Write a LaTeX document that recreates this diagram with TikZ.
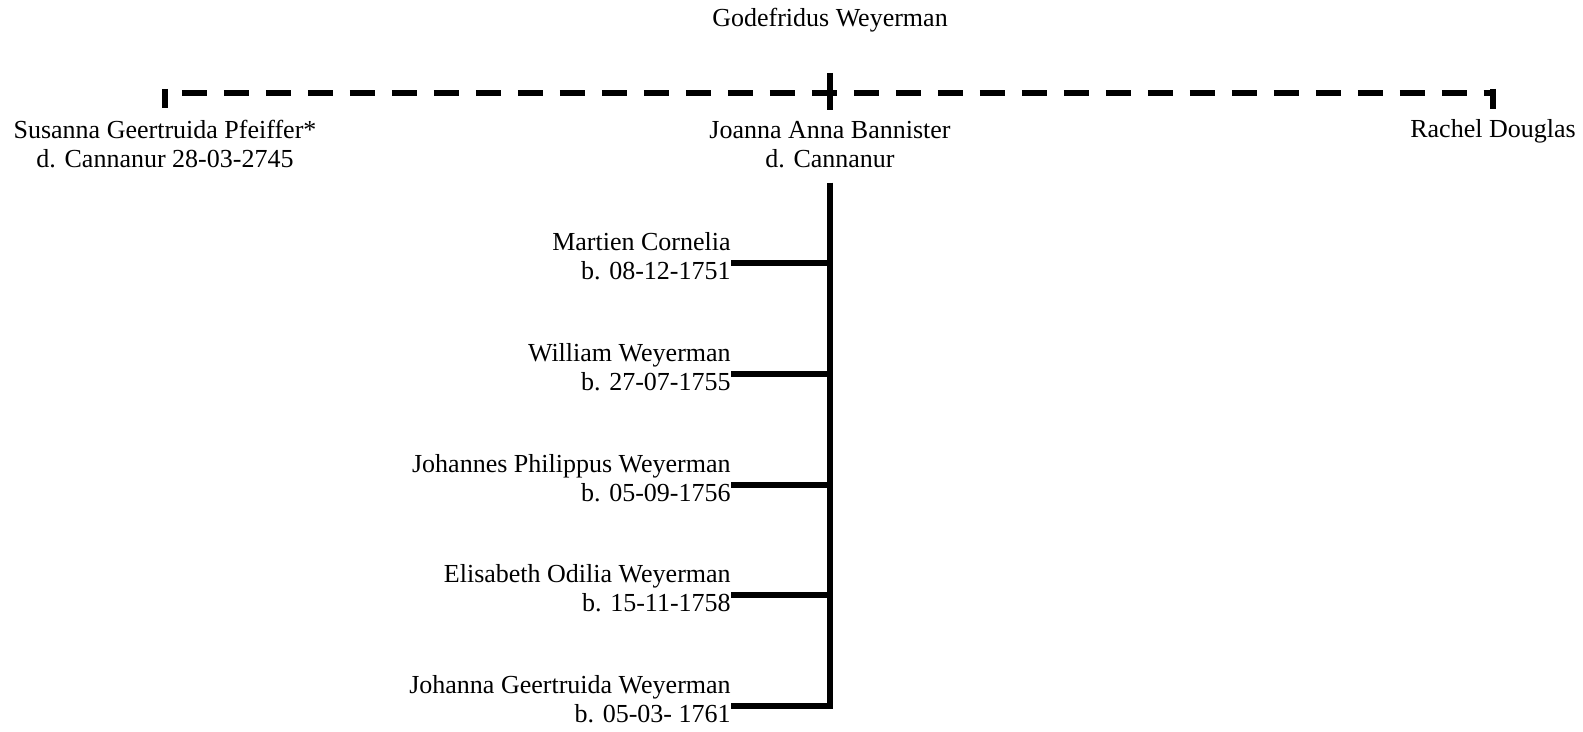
\documentclass[tikz,border=0pt]{standalone}
\usepackage{fontspec}
\setmainfont{Liberation Serif}
\usetikzlibrary{positioning}

\begin{document}
\begin{tikzpicture}[
    x=0.02cm, y=-0.02cm,
    person/.style={inner sep=0pt, align=center, anchor=base, font=\fontsize{14.8}{17}\selectfont},
    child/.style={inner sep=0pt, align=right, anchor=base east, font=\fontsize{14.8}{17}\selectfont},
    line/.style={line width=3.4pt, black},
    bar/.style={line width=3.4pt, black, dash pattern=on 0.5cm off 0.34cm, dash phase=0.5cm},
]
    \useasboundingbox (0,0) rectangle (1583,732);

    % Father
    \node[person] (godefridus) at (830,27) {Godefridus Weyerman};

    % Wives (base = last line)
    \node[person] (susanna) at (165,168) {Susanna Geertruida Pfeiffer*\\d. Cannanur 28-03-2745};
    \node[person] (joanna) at (830,168) {Joanna Anna Bannister\\d. Cannanur};
    \node[person] (rachel) at (1493,138) {Rachel Douglas};

    % Marriage bar
    \coordinate (barL) at (165,93);
    \coordinate (barR) at (1493,93);
    \draw[bar] (barL) -- (barR);
    \draw[line] ([yshift=0.08cm]barL) -- ([yshift=0.22cm]susanna.north);
    \draw[line] ([yshift=0.08cm]barR) -- ([yshift=0.22cm]rachel.north);
    \draw[line] ([yshift=-0.8cm]godefridus.south) -- ([yshift=0.22cm]joanna.north);

    % Children
    \node[child] (martien) at (731,280) {Martien Cornelia\\b. 08-12-1751};
    \node[child] (william) at (731,391) {William Weyerman\\b. 27-07-1755};
    \node[child] (johannes) at (731,502) {Johannes Philippus Weyerman\\b. 05-09-1756};
    \node[child] (elisabeth) at (731,612) {Elisabeth Odilia Weyerman\\b. 15-11-1758};
    \node[child] (johanna) at (731,723) {Johanna Geertruida Weyerman\\b. 05-03- 1761};

    % Descent line
    \draw[line] ([yshift=-0.28cm]joanna.south) |- ([yshift=-0.13cm]johanna.east);
    \draw[line] ([yshift=-0.13cm]martien.east) -- ([yshift=-0.13cm]martien.east -| joanna.south);
    \draw[line] ([yshift=-0.13cm]william.east) -- ([yshift=-0.13cm]william.east -| joanna.south);
    \draw[line] ([yshift=-0.13cm]johannes.east) -- ([yshift=-0.13cm]johannes.east -| joanna.south);
    \draw[line] ([yshift=-0.13cm]elisabeth.east) -- ([yshift=-0.13cm]elisabeth.east -| joanna.south);
\end{tikzpicture}
\end{document}
